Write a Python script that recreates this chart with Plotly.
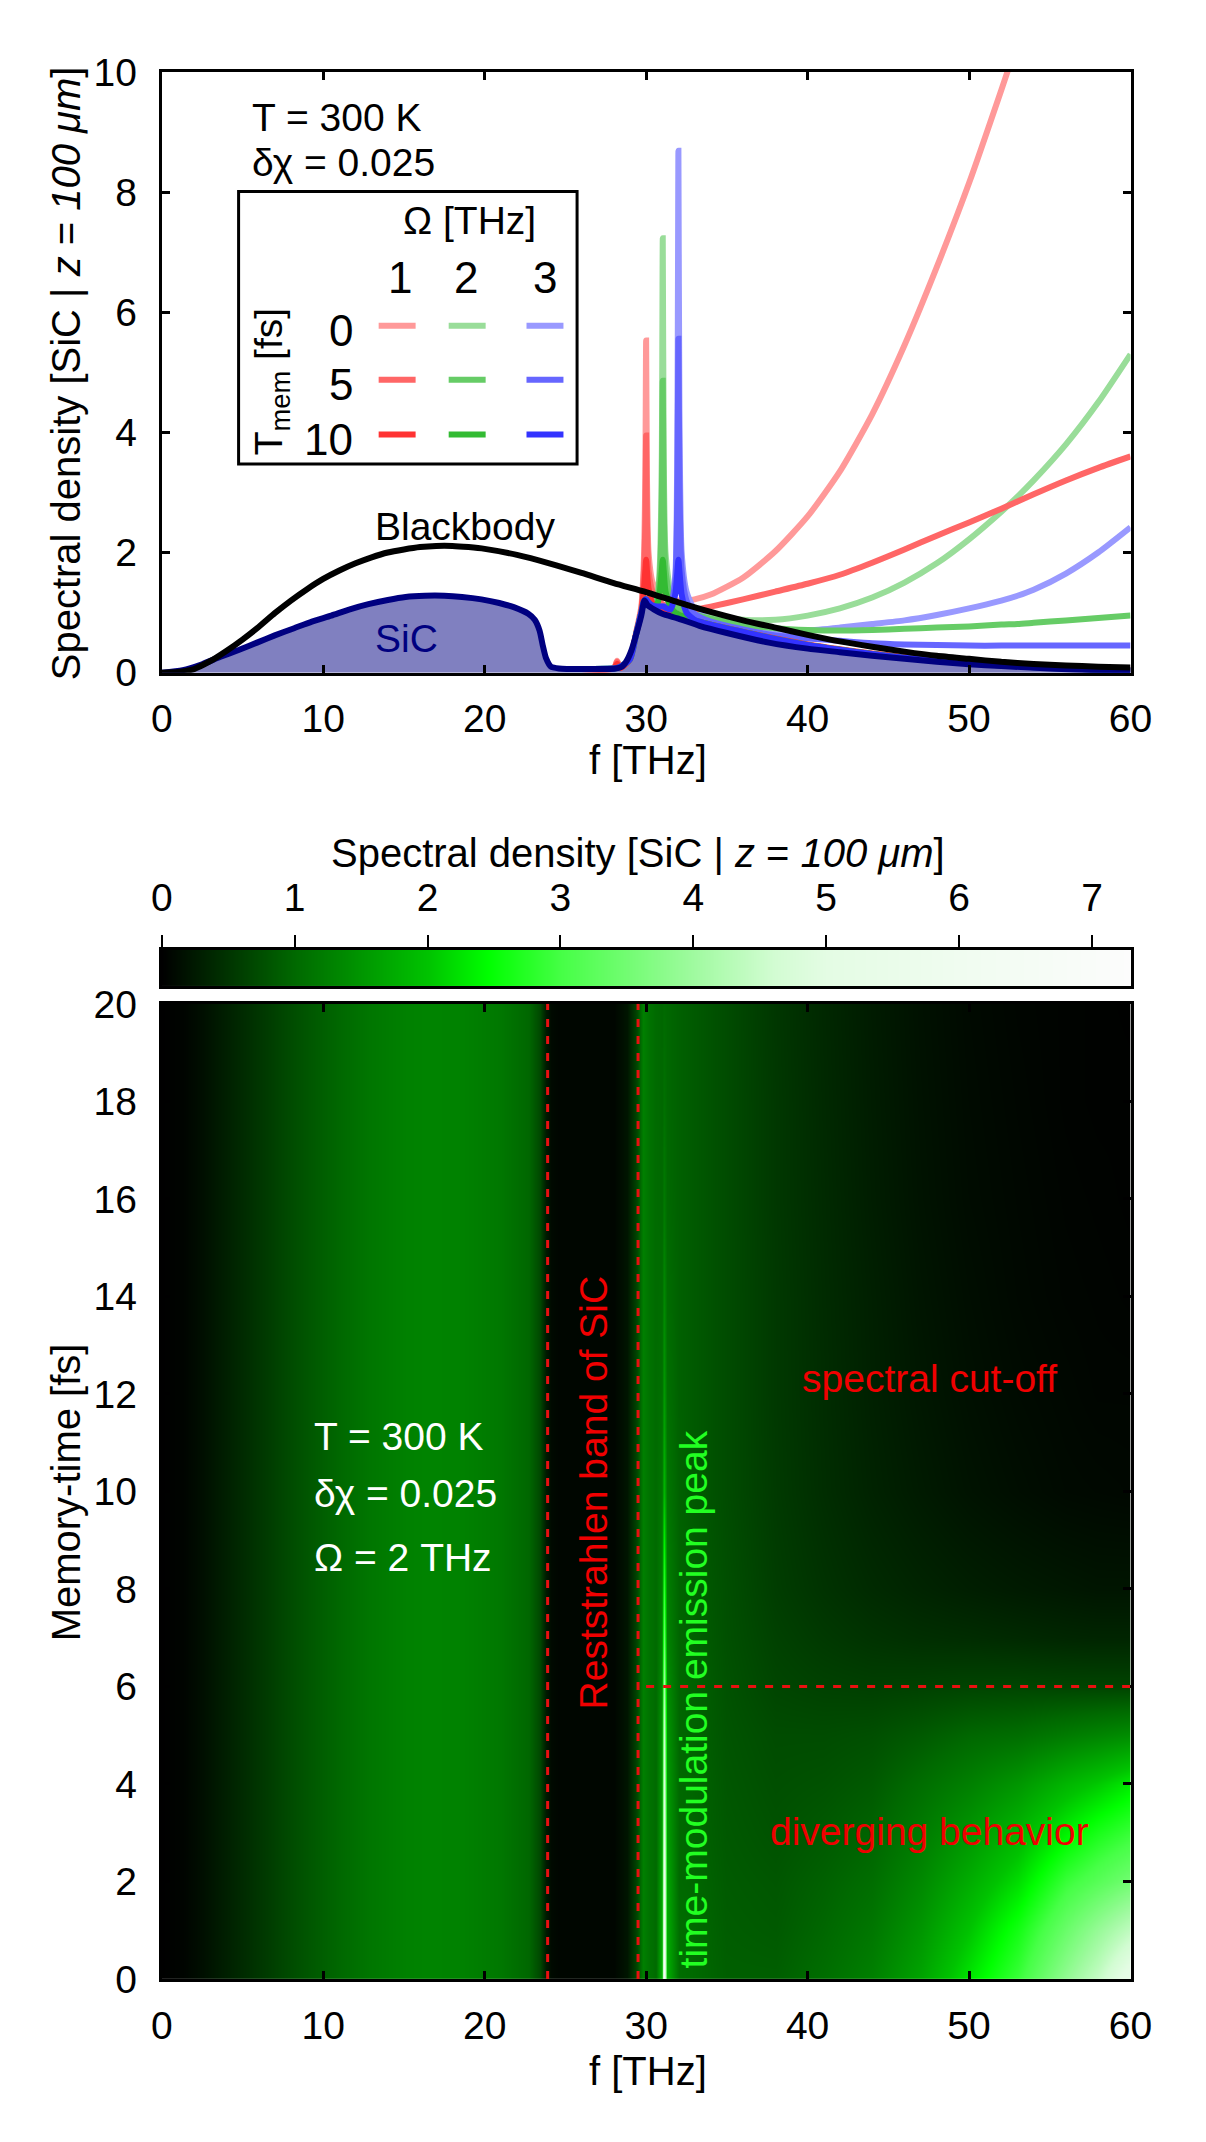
import plotly.graph_objects as go

W, H = 1206, 2142
FONT = "Liberation Sans, Arial, sans-serif"
FS = 39

# ---------------- top panel: spectra ----------------
bb_f = [0, 1, 2, 3, 4, 5, 6, 7, 8, 9, 10, 11, 12, 13, 14, 15, 16, 17, 18, 19, 20,
        22, 24, 26, 28, 30, 32, 34, 36, 38, 40, 42, 44, 46, 48, 50, 52, 54, 56, 58, 60]
bb_v = [0, 0.01, 0.06, 0.19, 0.36, 0.55, 0.76, 0.99, 1.2, 1.39, 1.56, 1.7, 1.82, 1.92, 2.0,
        2.05, 2.09, 2.11, 2.11, 2.09, 2.06, 1.96, 1.82, 1.66, 1.49, 1.34, 1.17, 1.01, 0.87,
        0.75, 0.63, 0.52, 0.43, 0.35, 0.28, 0.23, 0.18, 0.145, 0.12, 0.1, 0.085]

sic_f = [0, 1.3, 2.5, 3.6, 4.8, 5.9, 7, 8.2, 9.3, 10.5, 11.6, 12.8, 14, 15.1, 16.3, 17.5,
         18.6, 19.8, 20.9, 21.8, 22.7, 23.1, 23.4, 23.6, 23.8, 24.1, 24.6, 26, 28.1, 28.5,
         28.8, 29.1, 29.4, 29.7, 29.9, 30.1, 30.5, 31, 32, 33.3, 35, 37.6, 40, 42, 44, 46,
         48, 50, 52, 55, 58, 60]
sic_v = [0, 0.04, 0.14, 0.26, 0.38, 0.5, 0.62, 0.74, 0.85, 0.95, 1.05, 1.14, 1.21, 1.26,
         1.28, 1.28, 1.26, 1.22, 1.16, 1.09, 0.98, 0.88, 0.7, 0.45, 0.24, 0.1, 0.07, 0.06,
         0.07, 0.1, 0.2, 0.38, 0.65, 0.95, 1.2, 1.12, 1.05, 0.98, 0.9, 0.78, 0.66, 0.5,
         0.4, 0.34, 0.28, 0.23, 0.18, 0.14, 0.11, 0.07, 0.04, 0.03]

# frequency grid shared by the nine time-modulated curves
mod_f = [26, 28, 28.2, 28.4, 29, 29.4, 29.7, 29.85, 29.95, 30.0, 30.05, 30.15, 30.4, 30.7,
         30.85, 30.97, 31.03, 31.09, 31.2, 31.5, 31.8, 31.94, 32.0, 32.06, 32.2, 32.5, 33,
         34, 36, 38, 40, 42, 44, 46, 48, 50, 52, 53, 54, 56, 58, 60]

# Omega = 1 THz (red), Tmem = 0 / 5 / 10 fs
r_t0 = [0.06, 0.07, 0.2, 0.08, 0.25, 0.7, 1.1, 1.8, 3.3, 5.53, 3.3, 2.0, 1.5, 1.35,
        1.3, 1.27, 1.26, 1.25, 1.24, 1.22, 1.2, 1.2, 1.2, 1.2, 1.2, 1.2, 1.22,
        1.3, 1.58, 2.02, 2.6, 3.35, 4.3, 5.45, 6.75, 8.15, 9.7, 10.5, None, None, None, None]
r_t5 = [0.06, 0.07, 0.18, 0.08, 0.24, 0.68, 1.05, 1.6, 2.5, 3.95, 2.5, 1.7, 1.35, 1.22,
        1.18, 1.15, 1.14, 1.13, 1.12, 1.1, 1.07, 1.06, 1.05, 1.05, 1.04, 1.04, 1.05,
        1.1, 1.22, 1.35, 1.48, 1.63, 1.83, 2.05, 2.28, 2.5, 2.73, 2.85, 2.97, 3.2, 3.41, 3.6]
r_t10 = [0.06, 0.07, 0.15, 0.08, 0.22, 0.66, 1.0, 1.35, 1.7, 1.88, 1.7, 1.4, 1.15, 1.07,
         1.04, 1.02, 1.01, 1.0, 0.99, 0.97, 0.95, 0.94, 0.94, 0.93, 0.92, 0.9, 0.86,
         0.8, 0.68, 0.57, 0.47, 0.39, 0.32, 0.26, 0.21, 0.17, 0.13, 0.12, 0.1, 0.08, 0.06, 0.05]
# Omega = 2 THz (green)
g_t0 = [0.06, 0.07, 0.08, 0.1, 0.22, 0.66, 1.0, 1.18, 1.22, 1.22, 1.2, 1.17, 1.15, 1.3,
        1.8, 3.6, 7.23, 3.6, 2.0, 1.35, 1.18, 1.14, 1.12, 1.11, 1.09, 1.06, 1.02,
        0.95, 0.88, 0.88, 0.95, 1.07, 1.25, 1.5, 1.82, 2.22, 2.68, 2.93, 3.2, 3.8, 4.5, 5.3]
g_t5 = [0.06, 0.07, 0.08, 0.1, 0.22, 0.66, 1.0, 1.18, 1.22, 1.22, 1.2, 1.17, 1.12, 1.25,
        1.6, 2.8, 4.86, 2.8, 1.7, 1.25, 1.12, 1.09, 1.08, 1.07, 1.05, 1.02, 0.97,
        0.9, 0.8, 0.74, 0.71, 0.7, 0.71, 0.73, 0.75, 0.77, 0.8, 0.81, 0.83, 0.87, 0.91, 0.95]
g_t10 = [0.06, 0.07, 0.08, 0.1, 0.22, 0.66, 1.0, 1.18, 1.22, 1.22, 1.2, 1.17, 1.1, 1.15,
         1.35, 1.7, 1.88, 1.7, 1.35, 1.1, 1.0, 0.98, 0.97, 0.96, 0.95, 0.92, 0.87,
         0.8, 0.68, 0.56, 0.46, 0.38, 0.31, 0.25, 0.2, 0.16, 0.12, 0.11, 0.09, 0.07, 0.05, 0.04]
# Omega = 3 THz (blue)
b_t0 = [0.06, 0.07, 0.08, 0.1, 0.22, 0.66, 1.0, 1.18, 1.22, 1.22, 1.2, 1.17, 1.12, 1.1,
        1.1, 1.1, 1.1, 1.1, 1.1, 1.15, 1.6, 4.4, 8.69, 4.4, 2.0, 1.35, 1.05,
        0.88, 0.74, 0.69, 0.7, 0.75, 0.81, 0.87, 0.96, 1.07, 1.2, 1.28, 1.38, 1.65, 2.0, 2.42]
b_t5 = [0.06, 0.07, 0.08, 0.1, 0.22, 0.66, 1.0, 1.18, 1.22, 1.22, 1.2, 1.17, 1.12, 1.1,
        1.1, 1.1, 1.1, 1.1, 1.1, 1.12, 1.5, 3.2, 5.56, 3.2, 1.7, 1.2, 0.98,
        0.85, 0.72, 0.62, 0.57, 0.53, 0.49, 0.47, 0.46, 0.45, 0.45, 0.45, 0.45, 0.45, 0.45, 0.45]
b_t10 = [0.06, 0.07, 0.08, 0.1, 0.22, 0.66, 1.0, 1.18, 1.22, 1.22, 1.2, 1.17, 1.12, 1.1,
         1.1, 1.1, 1.1, 1.1, 1.08, 1.05, 1.3, 1.7, 1.88, 1.7, 1.3, 1.0, 0.88,
         0.8, 0.68, 0.56, 0.46, 0.38, 0.31, 0.25, 0.2, 0.16, 0.12, 0.11, 0.09, 0.07, 0.05, 0.04]

omega_labels = ["1", "2", "3"]
tmem_labels = ["0", "5", "10"]
# rows: Tmem 0 / 5 / 10, columns: Omega 1 / 2 / 3
line_colors = [["#FF9999", "#99DD99", "#9999FF"],
               ["#FF6666", "#66CC66", "#6666FF"],
               ["#FF3333", "#33BB33", "#3333FF"]]
mod_curves = [[r_t0, g_t0, b_t0], [r_t5, g_t5, b_t5], [r_t10, g_t10, b_t10]]

# ---------------- bottom panel: map over f and memory time (Omega = 2 THz) ----------------
hm_f_low = [0, 1.3, 2.5, 3.6, 5.9, 8.2, 10.5, 12.8, 15.1, 16.5, 18.6, 20.9, 22.7, 23.4,
            23.8, 24.1, 24.6, 28, 28.8, 29.4, 29.8, 30.2, 30.6]
hm_low = [0, 0.04, 0.14, 0.26, 0.5, 0.74, 0.95, 1.14, 1.26, 1.29, 1.27, 1.17, 0.98, 0.69,
          0.26, 0.1, 0.06, 0.06, 0.2, 0.69, 1.25, 1.1, 1.02]
hm_f_high = [30.95, 31.1, 31.25, 32, 33, 35, 38, 41, 44, 47, 50, 53, 56, 58, 60]
hm_time = [0, 1, 2, 3, 4, 5, 6, 7, 8, 10, 12, 14, 16, 18, 20]
hm_high = [
    [1.8, 7.2, 1.8, 1.05, 1.0, 0.9, 0.9, 1.05, 1.25, 1.65, 2.25, 2.9, 3.85, 4.45, 5.3],
    [1.75, 6.8, 1.75, 1.05, 1.0, 0.88, 0.85, 0.98, 1.15, 1.5, 2.0, 2.6, 3.4, 3.9, 4.4],
    [1.7, 6.3, 1.7, 1.0, 0.97, 0.86, 0.82, 0.92, 1.05, 1.35, 1.75, 2.2, 2.9, 3.2, 3.5],
    [1.6, 5.8, 1.6, 1.0, 0.95, 0.84, 0.78, 0.85, 0.95, 1.2, 1.5, 1.85, 2.35, 2.65, 2.9],
    [1.55, 5.4, 1.55, 1.0, 0.95, 0.82, 0.75, 0.78, 0.85, 1.05, 1.25, 1.5, 1.85, 2.05, 2.3],
    [1.5, 4.86, 1.5, 0.98, 0.93, 0.8, 0.72, 0.72, 0.75, 0.85, 0.98, 1.05, 1.2, 1.3, 1.4],
    [1.4, 4.2, 1.4, 0.97, 0.92, 0.78, 0.66, 0.62, 0.6, 0.62, 0.65, 0.66, 0.65, 0.65, 0.65],
    [1.3, 3.5, 1.3, 0.96, 0.9, 0.76, 0.62, 0.54, 0.48, 0.44, 0.42, 0.39, 0.36, 0.35, 0.35],
    [1.25, 2.9, 1.25, 0.95, 0.88, 0.75, 0.58, 0.48, 0.4, 0.34, 0.29, 0.25, 0.22, 0.2, 0.2],
    [1.15, 1.9, 1.15, 0.93, 0.85, 0.72, 0.55, 0.43, 0.33, 0.25, 0.18, 0.13, 0.09, 0.08, 0.07],
    [1.08, 1.55, 1.08, 0.92, 0.85, 0.72, 0.54, 0.42, 0.31, 0.22, 0.15, 0.1, 0.07, 0.05, 0.05],
    [1.04, 1.35, 1.04, 0.92, 0.85, 0.72, 0.54, 0.41, 0.3, 0.2, 0.13, 0.08, 0.05, 0.04, 0.03],
    [1.0, 1.18, 1.0, 0.92, 0.85, 0.72, 0.53, 0.4, 0.28, 0.18, 0.11, 0.07, 0.04, 0.03, 0.02],
    [0.99, 1.08, 0.99, 0.92, 0.85, 0.72, 0.53, 0.39, 0.27, 0.17, 0.1, 0.06, 0.03, 0.02, 0.02],
    [0.98, 1.02, 0.99, 0.92, 0.85, 0.72, 0.52, 0.38, 0.26, 0.16, 0.09, 0.05, 0.03, 0.02, 0.01],
]
band_edges = [23.9, 29.5]      # Reststrahlen band limits
cutoff_time = 6.0              # horizontal dashed line
cutoff_from = 30.0
cb_max = 7.29
cb_ticks = [0, 1, 2, 3, 4, 5, 6, 7]

green_scale = [
    [0.0, "rgb(0,0,0)"], [0.137, "rgb(0,105,0)"], [0.274, "rgb(0,195,0)"],
    [0.336, "rgb(0,255,0)"], [0.412, "rgb(70,255,70)"], [0.549, "rgb(160,250,160)"],
    [0.631, "rgb(210,252,210)"], [0.686, "rgb(228,252,228)"], [0.823, "rgb(240,252,240)"],
    [1.0, "rgb(252,252,252)"],
]


def px(x):
    return x / W


def py(y):
    return 1 - y / H


X_DOM = [px(155), px(1151)]
TOP_DOM = [py(665), py(52)]
CB_DOM = [py(985), py(948)]
HM_DOM = [py(1998), py(1003)]

SMOOTH = dict(shape="spline", smoothing=0.6)

fig = go.Figure()

# --- top panel ---
fig.add_trace(go.Scatter(x=sic_f, y=sic_v, mode="lines", fill="tozeroy",
                         fillcolor="#8080C0", line=dict(width=0, **SMOOTH),
                         xaxis="x", yaxis="y", hoverinfo="skip"))
for row in range(3):
    for col in range(3):
        fig.add_trace(go.Scatter(x=mod_f, y=mod_curves[row][col], mode="lines",
                                 line=dict(color=line_colors[row][col], width=6, **SMOOTH),
                                 xaxis="x", yaxis="y", connectgaps=False))
fig.add_trace(go.Scatter(x=sic_f, y=sic_v, mode="lines",
                         line=dict(color="#000080", width=6, **SMOOTH), xaxis="x", yaxis="y"))
fig.add_trace(go.Scatter(x=bb_f, y=bb_v, mode="lines",
                         line=dict(color="black", width=6, **SMOOTH), xaxis="x", yaxis="y"))

# --- bottom panel ---
hm_x = hm_f_low + hm_f_high
hm_z = [hm_low + row for row in hm_high]
fig.add_trace(go.Heatmap(x=hm_x, y=hm_time, z=hm_z, coloraxis="coloraxis",
                         zsmooth="best", xaxis="x2", yaxis="y2"))
fig.add_trace(go.Heatmap(x=[0, cb_max], y=[0, 1], z=[[0, cb_max], [0, cb_max]],
                         coloraxis="coloraxis", zsmooth="best", xaxis="x3", yaxis="y3",
                         hoverinfo="skip"))

shapes = []
for fe in band_edges:
    shapes.append(dict(type="line", xref="x2", yref="y2", x0=fe, x1=fe, y0=0, y1=20,
                       line=dict(color="#E81010", width=3, dash="8px,9px")))
shapes.append(dict(type="line", xref="x2", yref="y2", x0=cutoff_from, x1=60,
                   y0=cutoff_time, y1=cutoff_time,
                   line=dict(color="#E81010", width=3, dash="8px,9px")))

# legend box of the top panel
shapes.append(dict(type="rect", xref="paper", yref="paper", x0=px(234), x1=px(582),
                   y0=py(452), y1=py(174), line=dict(color="black", width=3),
                   fillcolor="white", layer="above"))
leg_rows = [311, 366, 422]
leg_cols = [(378, 416), (450, 488), (530, 568)]
for r in range(3):
    for c in range(3):
        shapes.append(dict(type="line", xref="paper", yref="paper",
                           x0=px(leg_cols[c][0]), x1=px(leg_cols[c][1]),
                           y0=py(leg_rows[r]), y1=py(leg_rows[r]),
                           line=dict(color=line_colors[r][c], width=6), layer="above"))


def label(text, x, y, color="black", angle=0, xanchor="center", size=FS):
    return dict(text=text, x=px(x), y=py(y), xref="paper", yref="paper", showarrow=False,
                font=dict(size=size, color=color, family=FONT), textangle=angle,
                xanchor=xanchor, yanchor="middle")


ann = [
    label("Spectral density [SiC | <i>z</i> = <i>100 μm</i>]", 56, 359, angle=-90, size=40),
    label("f [THz]", 655, 754, size=40),
    label("T = 300 K", 246, 98, xanchor="left"),
    label("δχ = 0.025", 246, 144, xanchor="left"),
    label("Ω [THz]", 471, 204),
    label("T<sub>mem</sub> [fs]", 268, 368, angle=-90),
    label("Blackbody", 467, 516),
    label("SiC", 407, 630, color="#000080"),
    label("Spectral density [SiC | <i>z</i> = <i>100 μm</i>]", 645, 849, size=40),
    label("Memory-time [fs]", 56, 1501, angle=-90, size=40),
    label("f [THz]", 655, 2092, size=40),
    label("T = 300 K", 309, 1445, color="white", xanchor="left"),
    label("δχ = 0.025", 309, 1503, color="white", xanchor="left"),
    label("Ω = 2 THz", 309, 1568, color="white", xanchor="left"),
    label("Reststrahlen band of SiC", 599, 1502, color="#F00000", angle=-90),
    label("time-modulation emission peak", 702, 1713, color="#22FF22", angle=-90),
    label("spectral cut-off", 944, 1385, color="#F00000"),
    label("diverging behavior", 944, 1848, color="#F00000"),
]
for c, t in enumerate(omega_labels):
    ann.append(label(t, [400, 468, 549][c], 262, size=44))
for r, t in enumerate(tmem_labels):
    ann.append(label(t, 354, leg_rows[r] + 5, xanchor="right", size=44))

tickfont = dict(size=FS, family=FONT, color="black")
frame = dict(showline=True, linecolor="black", linewidth=3, mirror="ticks",
             showgrid=False, zeroline=False, ticks="inside", ticklen=8, tickwidth=3,
             tickcolor="black", tickfont=tickfont)

fig.update_layout(
    width=W, height=H, margin=dict(l=0, r=0, t=0, b=0),
    paper_bgcolor="white", plot_bgcolor="white", showlegend=False,
    font=dict(family=FONT, size=FS, color="black"),
    xaxis=dict(domain=X_DOM, anchor="y", range=[0, 60], tickvals=[0, 10, 20, 30, 40, 50, 60],
               ticklabelstandoff=10, **frame),
    yaxis=dict(domain=TOP_DOM, anchor="x", range=[0, 10], tickvals=[0, 2, 4, 6, 8, 10],
               ticklabelstandoff=14, **frame),
    xaxis2=dict(domain=X_DOM, anchor="y2", range=[0, 60], tickvals=[0, 10, 20, 30, 40, 50, 60],
                ticklabelstandoff=10, **frame),
    yaxis2=dict(domain=HM_DOM, anchor="x2", range=[0, 20], tickvals=list(range(0, 21, 2)),
                ticklabelstandoff=14, **frame),
    xaxis3=dict(domain=X_DOM, anchor="y3", range=[0, cb_max], side="top", tickvals=cb_ticks,
                showline=True, linecolor="black", linewidth=3, mirror=True, showgrid=False,
                zeroline=False, ticks="outside", ticklen=12, tickwidth=2, tickcolor="black",
                tickfont=tickfont, ticklabelstandoff=8),
    yaxis3=dict(domain=CB_DOM, anchor="x3", range=[0, 1], showticklabels=False, ticks="",
                showline=True, linecolor="black", linewidth=3, mirror=True, showgrid=False,
                zeroline=False),
    coloraxis=dict(colorscale=green_scale, cmin=0, cmax=cb_max, showscale=False),
    shapes=shapes, annotations=ann,
)

fig.write_html("out.html", config={"displayModeBar": False},
               post_script="document.body.style.margin='0px';")
